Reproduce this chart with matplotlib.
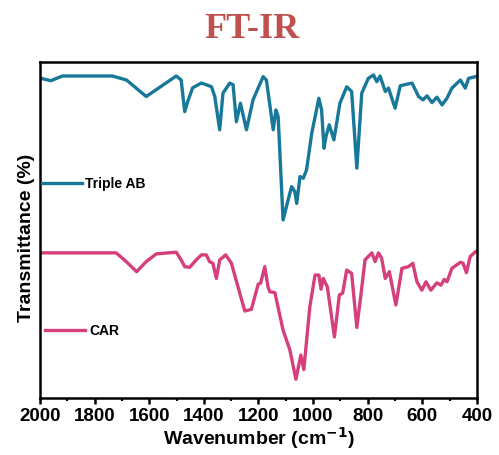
import matplotlib
matplotlib.use('Agg')
import matplotlib.pyplot as plt
from matplotlib.ticker import MultipleLocator

# Triple AB spectrum (wavenumber, transmittance a.u.)
wn_ab = [1996, 1960, 1918, 1735, 1683, 1611, 1501, 1483, 1470, 1459, 1441, 1409,
         1391, 1372, 1360, 1342, 1330, 1305, 1293, 1281, 1266, 1244, 1220, 1183,
         1171, 1146, 1136, 1128, 1110, 1079, 1067, 1060, 1048, 1036, 1024, 1005,
         979, 969, 960, 953, 941, 924, 902, 877, 859, 840, 822, 798, 779, 767,
         755, 736, 724, 700, 681, 638, 614, 598, 583, 565, 547, 528, 510, 492,
         461, 443, 431, 406]
t_ab = [95.1, 94.4, 95.8, 95.8, 94.6, 89.7, 95.8, 94.6, 85.2, 88.2, 92.3, 93.7,
        93.2, 92.6, 89.7, 79.8, 90.7, 93.7, 93.2, 82.2, 87.7, 79.8, 88.7, 95.6,
        94.6, 79.8, 85.7, 83.7, 53.0, 62.9, 61.4, 57.9, 65.9, 65.4, 67.9, 78.8,
        89.2, 85.7, 74.3, 77.8, 81.3, 76.8, 87.7, 92.6, 91.2, 68.4, 90.7, 95.1,
        96.1, 94.1, 95.8, 91.2, 92.2, 86.2, 92.9, 93.7, 89.7, 88.7, 89.9, 87.9,
        89.5, 87.2, 89.2, 92.2, 94.6, 92.2, 95.1, 95.6]

# CAR spectrum
wn_car = [1996, 1721, 1684, 1646, 1611, 1574, 1501, 1483, 1470, 1452, 1428, 1409,
          1391, 1379, 1367, 1354, 1342, 1320, 1299, 1275, 1250, 1226, 1201, 1192,
          1177, 1165, 1158, 1140, 1110, 1085, 1063, 1045, 1034, 1012, 993, 979,
          971, 963, 948, 922, 904, 892, 877, 859, 840, 826, 810, 785, 773, 761,
          749, 736, 721, 697, 675, 651, 635, 620, 602, 587, 569, 547, 532, 520,
          510, 492, 461, 451, 439, 425, 406]
t_car = [43.2, 43.2, 40.6, 37.6, 40.6, 42.9, 43.4, 41.1, 39.1, 38.9, 41.1, 42.6,
         42.6, 40.6, 40.1, 35.6, 41.1, 42.6, 40.1, 33.1, 25.9, 26.4, 33.9, 34.2,
         39.1, 33.0, 31.6, 31.4, 20.2, 14.3, 5.6, 12.8, 8.5, 27.2, 36.6, 36.6,
         32.4, 35.6, 33.1, 18.2, 30.7, 31.2, 38.1, 37.1, 21.0, 30.1, 41.1, 43.2,
         40.6, 43.2, 41.6, 35.6, 37.6, 27.7, 38.6, 39.1, 40.1, 34.6, 32.1, 34.6,
         32.1, 34.3, 33.6, 35.3, 34.6, 38.6, 40.4, 40.1, 37.3, 42.1, 43.5]

blue = '#17789a'
pink = '#d43f7c'

fig = plt.figure(figsize=(4.99, 4.55), dpi=100)
ax = fig.add_axes([0.080, 0.125, 0.876, 0.739])

l1, = ax.plot(wn_ab, t_ab, color=blue, lw=2.4, solid_joinstyle='round')
l2, = ax.plot(wn_car, t_car, color=pink, lw=2.4, solid_joinstyle='round')

ax.set_xlim(2000, 400)
ax.set_ylim(0, 100)
ax.set_yticks([])
ax.xaxis.set_major_locator(MultipleLocator(200))
ax.xaxis.set_minor_locator(MultipleLocator(100))
ax.tick_params(axis='x', which='major', direction='out', length=4, width=1.8,
               labelsize=13.5, pad=3)
ax.tick_params(axis='x', which='minor', direction='out', length=2.5, width=1.5)
for lab in ax.get_xticklabels():
    lab.set_fontfamily('Liberation Sans')
    lab.set_fontweight('bold')
for s in ax.spines.values():
    s.set_linewidth(1.8)

ax.set_xlabel('Wavenumber (cm$^{\\mathbf{-1}}$)', fontsize=14, fontweight='bold',
              family='Liberation Sans', labelpad=0)
ax.set_ylabel('Transmittance (%)', fontsize=14, fontweight='bold',
              family='Liberation Sans')
ax.yaxis.set_label_coords(-0.012, 0.476)

leg1 = ax.legend([l1], ['Triple AB'], loc='center left', bbox_to_anchor=(0.005, 0.636),
                 frameon=False, borderpad=0, borderaxespad=0, handlelength=2.9,
                 handletextpad=0.2, prop={'family': 'Liberation Sans', 'weight': 'bold', 'size': 10})
ax.add_artist(leg1)
ax.legend([l2], ['CAR'], loc='center left', bbox_to_anchor=(0.011, 0.200),
          frameon=False, borderpad=0, borderaxespad=0, handlelength=2.9,
          handletextpad=0.3, prop={'family': 'Liberation Sans', 'weight': 'bold', 'size': 10})

fig.text(0.505, 0.935, 'FT-IR', ha='center', va='center', color='#c0504d',
         fontsize=26, fontweight='bold', family='Liberation Serif')

fig.savefig('out.png', dpi=100)
